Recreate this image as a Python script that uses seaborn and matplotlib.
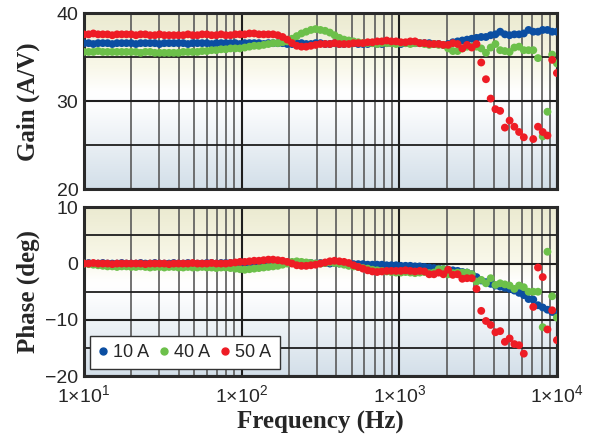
import numpy as np
import pandas as pd
import seaborn as sns
import matplotlib.pyplot as plt
from matplotlib.lines import Line2D
from matplotlib.colors import LinearSegmentedColormap
from matplotlib.ticker import FixedLocator, MultipleLocator, NullFormatter

sns.set_style('white')
plt.rcParams['font.family'] = ['Liberation Sans', 'DejaVu Sans']
plt.rcParams['mathtext.fontset'] = 'custom'
plt.rcParams['mathtext.rm'] = 'Liberation Sans'

# log frequency sweep, 10 Hz .. 10 kHz
freq = np.logspace(1, 4, 101)
nan = np.nan

gain_10a = [36.6, 36.6, 36.5, 36.6, 36.6, 36.6, 36.5, 36.6, 36.6, 36.6,
            36.6, 36.5, 36.6, 36.6, 36.6, 36.6, 36.5, 36.6, 36.6, 36.6,
            36.6, 36.6, 36.5, 36.6, 36.6, 36.6, 36.6, 36.5, 36.6, 36.6,
            36.6, 36.6, 36.6, 36.5, 36.6, 36.6, 36.6, 36.6, 36.5, 36.6,
            36.6, 36.6, 36.6, 36.5, 36.5, 36.6, 36.6, 36.5, 36.5, 36.6,
            36.6, 36.5, 36.5, 36.6, 36.5, 36.5, 36.6, 36.6, 36.5, 36.5,
            36.5, 36.6, 36.5, 36.5, 36.6, 36.6, 36.6, 36.5, 36.6, 36.6,
            36.6, 36.6, 36.6, 36.6, 36.5, 36.5, 36.4, 36.5, 36.7, 36.8,
            36.9, 37.0, 37.1, 37.2, 37.3, 37.3, 37.5, 37.6, 37.9, 37.6,
            37.5, 37.6, 37.6, 37.7, 38.1, 37.9, 37.9, 38.1, 38.1, 37.9,
            37.9]
gain_40a = [35.6, 35.6, 35.6, 35.7, 35.6, 35.6, 35.6, 35.6, 35.6, 35.6,
            35.6, 35.6, 35.5, 35.6, 35.6, 35.5, 35.5, 35.5, 35.5, 35.5,
            35.5, 35.6, 35.6, 35.6, 35.6, 35.7, 35.7, 35.8, 35.8, 35.9,
            35.9, 36.0, 36.0, 36.0, 36.1, 36.2, 36.3, 36.3, 36.4, 36.5,
            36.6, 36.6, 36.7, 36.8, 37.1, 37.4, 37.7, 37.9, 38.1, 38.2,
            38.1, 38.0, 37.8, 37.5, 37.2, 37.0, 36.9, 36.8, 36.7, 36.6,
            36.6, 36.6, 36.5, 36.6, 36.6, 36.6, 36.5, 36.6, 36.6, 36.5,
            36.6, 36.6, 36.5, 36.4, 36.5, 36.4, 36.4, 36.0, 35.7, 35.7,
            36.0, 36.2, 36.2, 36.2, 36.0, 35.5, 36.1, 36.5, 35.8, 35.7,
            35.6, 36.1, 36.2, 35.8, 35.8, 35.8, 34.9, 26.0, 28.8, 35.3,
            34.3]
gain_50a = [37.6, 37.6, 37.7, 37.6, 37.6, 37.6, 37.5, 37.6, 37.6, 37.6,
            37.6, 37.5, 37.6, 37.6, 37.5, 37.5, 37.6, 37.5, 37.5, 37.5,
            37.5, 37.5, 37.6, 37.5, 37.5, 37.6, 37.6, 37.5, 37.5, 37.6,
            37.5, 37.5, 37.6, 37.6, 37.6, 37.7, 37.7, 37.6, 37.6, 37.6,
            37.6, 37.5, 37.3, 37.0, 36.6, 36.3, 36.2, 36.2, 36.3, 36.4,
            36.5, 36.5, 36.5, 36.6, 36.5, 36.5, 36.5, 36.6, 36.6, 36.6,
            36.7, 36.7, 36.8, 36.8, 36.9, 36.8, 36.8, 36.7, 36.7, 36.8,
            36.8, 36.6, 36.6, 36.5, 36.5, 36.5, 36.4, 36.4, 36.6, 36.5,
            36.0, 36.4, 36.1, 36.5, 34.4, 32.5, 30.3, 29.1, 28.9, 27.0,
            27.8, 27.1, 26.5, 25.9, nan, 25.7, 27.1, 26.5, 26.1, 34.7,
            33.2]

phase_10a = [0.0, 0.1, 0.0, 0.0, 0.1, 0.0, 0.0, 0.0, 0.1, 0.0,
             0.0, 0.0, 0.1, 0.0, 0.0, 0.1, 0.0, 0.0, 0.0, 0.1,
             0.0, 0.0, 0.1, 0.0, 0.0, 0.0, 0.1, 0.1, 0.0, 0.1,
             0.1, 0.1, 0.1, 0.2, 0.1, 0.2, 0.2, 0.2, 0.1, 0.2,
             0.2, 0.2, 0.1, 0.1, 0.1, 0.0, 0.0, 0.1, 0.1, 0.0,
             0.1, 0.1, 0.0, 0.1, 0.0, 0.0, -0.1, -0.1, -0.1, -0.1,
             -0.2, -0.2, -0.2, -0.2, -0.3, -0.3, -0.3, -0.4, -0.4, -0.4,
             -0.5, -0.5, -0.6, -0.7, -0.8, -0.9, -1.0, -1.1, -1.2, -1.3,
             -1.5, -1.6, -1.9, -2.4, -3.0, -3.3, -3.6, -3.9, -4.1, -4.3,
             -4.5, -4.8, -5.2, -5.6, -6.3, -6.4, -7.4, -7.8, -8.2, -8.6,
             -9.0]
phase_40a = [0.0, -0.1, -0.2, -0.3, -0.4, -0.5, -0.5, -0.6, -0.5, -0.5,
             -0.6, -0.6, -0.5, -0.6, -0.7, -0.6, -0.6, -0.7, -0.6, -0.6,
             -0.7, -0.7, -0.6, -0.7, -0.7, -0.6, -0.7, -0.7, -0.8, -0.7,
             -0.7, -0.8, -0.9, -1.0, -1.1, -1.0, -0.9, -0.8, -0.7, -0.6,
             -0.5, -0.4, -0.2, 0.0, 0.3, 0.4, 0.3, 0.2, 0.1, 0.0,
             0.0, 0.1, 0.2, 0.1, 0.0, -0.2, -0.4, -0.5, -0.6, -0.8,
             -0.9, -1.1, -1.2, -1.3, -1.4, -1.5, -1.6, -1.6, -1.5, -1.6,
             -1.7, -1.6, -1.5, -1.7, -1.6, -1.0, -1.0, -1.9, -1.7, -1.6,
             -1.6, -1.6, -1.9, -3.2, -2.9, -3.5, -2.6, -3.8, -3.5, -3.7,
             -3.9, -4.5, -3.9, -4.2, -5.0, -5.0, -5.0, -11.3, 2.1, -5.8,
             -9.6]
phase_50a = [0.0, 0.0, 0.1, 0.0, 0.0, 0.0, -0.1, 0.0, 0.0, 0.0,
             0.0, 0.0, 0.0, -0.1, 0.0, 0.0, 0.0, 0.0, -0.1, 0.0,
             0.0, 0.0, 0.0, 0.1, 0.0, 0.0, 0.0, 0.1, 0.0, 0.0,
             0.0, 0.1, 0.2, 0.3, 0.3, 0.4, 0.5, 0.5, 0.6, 0.7,
             0.7, 0.6, 0.5, 0.3, 0.0, -0.3, -0.4, -0.4, -0.3, -0.2,
             0.0, 0.2, 0.4, 0.5, 0.4, 0.3, 0.1, -0.3, -0.6, -0.9,
             -1.2, -1.4, -1.5, -1.4, -1.3, -1.3, -1.3, -1.3, -1.2, -1.3,
             -1.4, -1.3, -1.4, -1.9, -1.9, -1.6, -1.9, -1.1, -2.0, -1.9,
             -2.7, -2.6, -2.6, -4.5, -8.4, -10.2, -10.9, -12.2, -12.0, -13.9,
             -13.3, -14.3, -14.5, -16.0, nan, -7.7, -0.7, -2.4, -11.7, -8.3,
             -13.6]

currents = ['10 A', '40 A', '50 A']
colors = {'10 A': '#0b4ea2', '40 A': '#6cc04a', '50 A': '#ee1c25'}
xticks = [10, 100, 1000, 10000]
xlabels = ['1×10$^{1}$', '1×10$^{2}$', '1×10$^{3}$', '1×10$^{4}$']

df = pd.DataFrame({
    'freq': np.tile(freq, 3),
    'current': np.repeat(currents, len(freq)),
    'gain': np.concatenate([gain_10a, gain_40a, gain_50a]),
    'phase': np.concatenate([phase_10a, phase_40a, phase_50a]),
})

bg = LinearSegmentedColormap.from_list(
    'bg', [(0, '#d3dfe9'), (0.45, '#fbfcfd'), (0.55, '#ffffff'),
           (0.7, '#f8f7e8'), (1, '#ebead0')])
grad = np.linspace(0, 1, 256).reshape(-1, 1)

fig = plt.figure(figsize=(5.95, 4.41), dpi=100)
ax1 = fig.add_axes([0.141, 0.571, 0.795, 0.399])
ax2 = fig.add_axes([0.141, 0.147, 0.795, 0.383])

panels = [(ax1, 'gain', (20, 40), 10, 'Gain (A/V)'),
          (ax2, 'phase', (-20, 10), 10, 'Phase (deg)')]

for ax, col, ylim, step, label in panels:
    ax.set_xscale('log')
    ax.imshow(grad, extent=[10, 1e4, ylim[0], ylim[1]], origin='lower',
              aspect='auto', cmap=bg, zorder=0)
    sns.scatterplot(data=df, x='freq', y=col, hue='current', palette=colors,
                    s=32, linewidth=0, ax=ax, legend=False, zorder=3)
    ax.set_xlim(10, 1e4)
    ax.set_ylim(*ylim)
    ax.set_xticks(xticks)
    ax.xaxis.set_minor_locator(FixedLocator(
        [m * d for d in [10, 100, 1000] for m in range(2, 10)]))
    ax.xaxis.set_minor_formatter(NullFormatter())
    ax.yaxis.set_major_locator(MultipleLocator(step))
    ax.yaxis.set_minor_locator(MultipleLocator(5))
    ax.grid(which='major', axis='both', color='#1e1e1e', lw=1.5, zorder=1)
    ax.grid(which='minor', axis='x', color='#5a5a5a', lw=1.2, zorder=1)
    ax.grid(which='minor', axis='y', color='#1e1e1e', lw=1.3, zorder=1)
    ax.set_axisbelow(True)
    ax.tick_params(which='both', length=0, labelsize=14, pad=4)
    for s in ax.spines.values():
        s.set_color('#2a2a2a')
        s.set_linewidth(2.2)
    ax.set_xlabel('')
    ax.set_ylabel(label, fontfamily='Liberation Serif', fontweight='bold',
                  fontsize=18)
    ax.yaxis.set_label_coords(-0.093, 0.5)

ax1.tick_params(labelbottom=False)
ax2.set_xticks(xticks, labels=xlabels)
ax2.tick_params(axis='x', pad=6)
ax2.set_xlabel('Frequency (Hz)', fontfamily='Liberation Serif',
               fontweight='bold', fontsize=18)
ax2.xaxis.set_label_coords(0.5, -0.205)

handles = [Line2D([], [], marker='o', ls='none', color=colors[c],
                  markersize=5, label=c) for c in currents]
leg = ax2.legend(handles=handles, loc='lower left', ncol=3,
                 bbox_to_anchor=(0.013, 0.04), fontsize=13, frameon=True,
                 fancybox=False, framealpha=1, edgecolor='#333333',
                 handlelength=0.5, handletextpad=0.3, columnspacing=0.6,
                 borderpad=0.45, borderaxespad=0)
leg.get_frame().set_linewidth(1.0)
leg.set_zorder(5)

fig.savefig('out.png', dpi=100)
